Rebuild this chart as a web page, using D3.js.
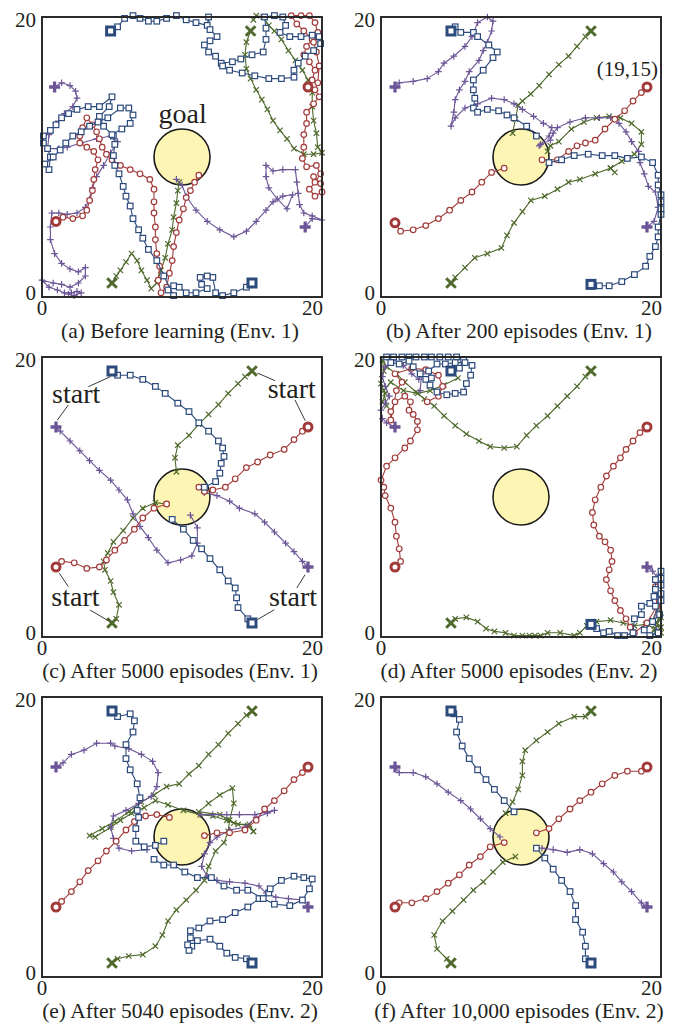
<!DOCTYPE html>
<html>
<head>
<meta charset="utf-8">
<script src="https://cdn.jsdelivr.net/npm/d3@7"></script>
<style>
  body { margin: 0; background: #fff; }
  svg { display: block; }
  text { font-family: 'Liberation Serif', 'Times New Roman', serif; fill: #231f20; }
</style>
</head>
<body>
<svg id="chart" width="683" height="1026"></svg>
<script>
// trajectories, in grid units (0..20); first point of each list is the start

// (a) before learning
const aSq1 = [[4.9,19],[5.4,19.3],[5.9,19.9],[6.5,20.1],[7,19.9],[7.6,19.7],[8.2,19.7],[8.9,19.9],[9.6,20.1],[10.3,19.8],[11,19.6],[11.8,19.4],[11.9,20],[12,19.1],[12.5,18.6],[12,18.3],[11.6,18],[11.9,17.5],[12.4,17.2],[12.8,16.7],[13.6,16.8],[14.2,17],[15,17.3],[15.8,17.5],[16,18.4],[16,19.2],[15.9,20],[16.6,20.1],[17.2,20],[17.4,19.4],[17,18.9],[17.7,18.6],[18.5,18.6],[19.3,18.7],[19.8,18.6],[19.9,18.1],[19.4,17.6],[18.8,17.2],[18.3,16.7],[18,16.2],[18,15.7],[17.1,15.6],[16.2,15.6],[15.2,15.8],[14.3,16],[13.4,16.2],[12.9,16.5]];
const aSq2 = [[15,1],[14.6,0.7],[13.7,0.3],[12.9,0.1],[12.4,0.3],[12.2,1.4],[11.8,1.5],[11.3,1.4],[11.4,0.9],[11.8,0.6],[11,0.3],[10.3,0.3],[9.8,0.7],[9.4,0.8],[9,0.5],[9.4,0.1],[8.7,1.5],[8.2,2.6],[7.6,3.4],[7.2,4.2],[6.9,4.8],[6.5,5.6],[6.3,6.5],[6,7.2],[5.8,7.9],[5.5,8.8],[5.2,9.4],[5.1,10.1],[5.2,10.9],[5.1,11.5],[4.4,12.2],[4.1,12.9],[4.8,13.6],[5,14.3],[4.1,13.6],[3.3,13.6],[2.5,13.4],[1.9,13.1],[1.4,12.8],[1,12.3],[0.6,11.9],[0.1,11.5],[0.1,11],[0.4,10.6],[0.6,10],[0.5,9.1],[0.2,9.5],[0.8,10],[1.3,10.5],[1.7,11],[2.2,11.5],[2.8,11.8],[3.4,12.2],[4,12.5],[4.7,12.8],[5.6,13.5],[6.2,13.5],[6.5,13],[6.3,12.4],[5.7,12],[5,11.6]];
const aCi1 = [[19,15],[19.3,15.5],[19.5,16.2],[19.1,16.8],[18.7,17.3],[18.9,17.9],[19.3,18.4],[18.7,19],[18.2,19.5],[17.8,20.1],[18.5,20.1],[19.1,20.1],[19.5,19.6],[19.7,18.9],[19.4,18.2],[19.6,17.5],[19.8,16.5],[19.7,15.3],[19.5,14.8],[19.8,14.3],[19.4,13.8],[18.9,13.2],[18.9,12.4],[18.7,11.6],[18.7,10.7],[18.6,9.9],[18.9,9.3],[19.6,9.4],[19.9,8.8],[19.5,8.2],[19.1,7.7],[19.5,7.2],[20,7.5],[19.9,8.1],[19.4,8.6]];
const aCi2 = [[1,5.4],[1.5,5.7],[2.2,5.6],[2.9,5.8],[3.2,6.2],[3.4,6.9],[3.6,7.6],[3.7,8.4],[3.8,9.1],[4,9.8],[3.7,10.4],[3.2,10.7],[2.7,11],[2.7,11.5],[2.9,12.1],[3.2,12.8],[3.6,12.3],[3.9,11.8],[4.1,11.3],[4.3,10.7],[4.6,10.2],[5,9.8],[5.6,9.4],[6.3,9.1],[7,8.8],[7.7,8.4],[8,7.7],[8,6.8],[8,6],[8.1,5],[8.1,4.1],[8.2,3.1],[8.4,2.2],[8.3,1.2],[8.5,0.3],[8.9,0.7],[9.1,1.7],[9.3,2.6],[9.4,3.6],[9.6,4.6],[9.8,5.5],[10.1,6.3],[10.3,7.1],[10.6,7.6],[10.9,8.2],[11.2,8.7]];
const aX1 = [[14.9,19],[14.6,18.2],[14.5,17.3],[14.6,16.3],[14.9,15.6],[15.3,14.8],[15.7,14.1],[16.1,13.4],[16.5,12.6],[17,11.9],[17.5,11.3],[18,10.6],[18.7,10.2],[19.4,10.2],[20,10.3],[19.7,10.7],[19.6,11.7],[19.4,12.6],[19.3,13.6],[19.3,14.6],[19,15.5],[18.6,16.2],[18.1,16.9],[17.6,17.6],[17.1,18.4],[16.6,19],[16.2,19.4],[15.8,20],[15.3,20.1],[15.1,19.8]];
const aX2 = [[5,1],[5.3,1.5],[5.6,1.9],[6,2.5],[6.4,3.1],[6.8,2.6],[7.1,1.9],[7.5,1.2],[7.8,0.6],[8.2,1],[8.5,1.9],[8.8,2.8],[9,3.8],[9.3,4.8],[9.4,5.7],[9.6,6.7],[9.7,7.6],[9.8,8.2]];
const aPl1 = [[0.9,15],[1.4,15.3],[2,15.1],[2.4,14.7],[2.5,14.2],[2.2,13.6],[1.6,13.1],[1,12.4],[0.5,11.6],[0.4,10.6],[1.2,10.6],[1.8,10.7],[2.8,11],[3.9,11.3],[4.9,11.5],[5.4,11.1],[4.9,10.3],[4.4,9.4],[3.9,8.6],[3.6,7.8],[3.4,7],[3.1,6.4],[2.5,6],[1.8,5.9],[1.2,6],[0.7,6],[0.6,5],[0.6,4.1],[0.9,3.1],[1.4,2.4],[2,2],[2.6,1.8],[3.1,2.1],[3.1,1.5],[2.6,1],[2,0.7],[1.4,0.9],[0.8,1],[0,1.2],[0.5,0.7],[1.1,0.5],[1.6,0.3],[2.1,0.3],[2.5,0.4],[2.8,0.3],[2.3,0.1],[1.9,0.2]];
const aPl2 = [[18.8,5],[19.3,5.6],[20,5.5],[19.3,5.8],[18.7,6],[18.4,6.6],[18.3,7.4],[18.2,8.2],[18.1,9.1],[17.2,9.1],[16.5,9],[16,9.4],[16,8.6],[16.2,7.8],[16.8,7],[17.5,6.3],[17.9,7.3],[17.2,7.2],[16.5,6.8],[16,6.2],[15.3,5.4],[14.6,4.7],[13.7,4.3],[12.7,4.8],[11.8,5.4],[11,6.2],[10.3,7.2],[10,8],[9.6,8.4]];

// (b) after 200 episodes, env 1
const bSq1 = [[5,19],[5.3,19.3],[5.7,18.9],[6.6,18.9],[6.9,18.6],[7.7,18],[8.3,17.5],[8,17.1],[7.3,16.2],[6.6,15.5],[6.6,14.8],[6.7,14.2],[6.6,13.5],[6.9,13.2],[7.6,13.4],[8.4,13.3],[9,13],[9.5,12.8],[10.4,12.2],[11.1,11.5]];
const bSq2 = [[15,0.9],[15.6,0.8],[16.3,0.8],[17.2,1.1],[18.1,1.6],[18.9,2.2],[19.2,2.9],[19.6,3.6],[19.8,4.3],[19.8,5],[20,5.9],[20,6.3],[20,6.8],[20,7.3],[19.8,8],[19.8,8.7],[19.4,9.6],[18.6,10],[17.6,9.9],[16.7,10.1],[15.8,10.1],[14.8,10.2],[13.8,10.1],[12.9,9.8],[12,9.6]];
const bCi1 = [[19,15],[18.6,14.6],[18,14],[17.4,13.3],[16.7,12.7],[16,12],[15.3,11.2],[14.6,11],[14,10.8],[13.4,10.4],[12.6,9.8],[11.5,9.8]];
const bCi2 = [[1,5.3],[1.4,4.7],[2.3,4.8],[3.2,5.1],[4.1,5.6],[4.9,6.2],[5.7,6.9],[6.5,7.5],[7.2,8.2],[7.9,8.9],[8.8,9.2]];
const bX1 = [[15,19],[14.6,18.6],[14,17.9],[13.4,17.2],[12.7,16.6],[12,15.9],[11.3,15.1],[10.7,14.5],[10.1,14],[9.8,13.7],[9.6,12.7],[9.4,11.7]];
const bX2 = [[5,1],[5.3,1.4],[6,2.1],[6.7,2.8],[7.6,3.1],[8.6,3.5],[9,4.4],[9.5,5.3],[10.1,6.1],[10.7,6.9],[11.7,7.2],[12.6,7.7],[13.4,8.2],[14.2,8.4],[15.3,8.8],[16.4,9.2],[16.7,8.9],[16.4,9.2],[17.2,9.7],[18.1,10.2],[18.6,10.9],[18.6,11.8],[17.9,12.4],[17.1,12.8],[16.3,12.9],[15.4,12.8],[14.5,12.5],[13.6,12],[12.7,11.1],[12.1,10.8],[11.9,10.4]];
const bPl1 = [[1,15],[1.3,15.3],[2.3,15.4],[3.3,15.6],[4.1,16.1],[4.5,16.7],[5.2,17.2],[6,17.9],[6.5,18.6],[6.9,19.6],[7.6,20],[8,19.7],[7.9,19],[7.6,18.2],[7.3,17.6],[7,16.9],[6.3,16.1],[6,15.4],[5.6,14.8],[5.3,14.1],[5.2,13.2],[5,12.2],[5.3,12.8],[6,13.5],[6.9,13.8],[7.9,14.2],[8.8,14.1],[9.5,13.8],[10.1,13.4],[10.9,12.9],[11.6,12.4],[12.2,12.1],[12,11.5],[11.3,10.8]];
const bPl2 = [[19,5],[19.5,5.4],[19.8,6.4],[19.6,7.5],[19.1,7.9],[18.8,8.8],[18.5,9.6],[18.4,10.4],[17.9,11.1],[17.5,11.8],[17,12.4],[16.4,12.8],[15.6,12.8],[14.6,12.8],[13.5,12.5],[12.6,12.1],[12.3,11.7],[12.1,11.2],[11.4,10.9]];

// (c) after 5000 episodes, env 1
const cSq1 = [[5,19],[5.4,18.7],[6.3,18.7],[7.2,18.4],[8.1,17.9],[8.8,17.4],[9.7,16.7],[10.5,16.1],[11.2,15.3],[11.9,14.7],[12.6,14],[12.9,13.5],[13,12.9],[12.8,12.4],[12.7,11.7],[12.4,11.1],[11.6,10.7]];
const cSq2 = [[15,1],[14.7,1.3],[14,2.1],[13.9,2.8],[13.8,3.5],[13.3,4],[12.7,4.8],[12,5.6],[11.4,6.3],[10.8,6.9],[10.1,7.7],[9.3,8.4]];
const cCi1 = [[19,15],[18.6,14.7],[18,14.1],[17.3,13.4],[16.3,13],[15.4,12.5],[14.6,12.1],[13.8,11.3],[13.1,10.7],[12.2,10.5],[11.6,10.4],[11.2,10.7]];
const cCi2 = [[1,5],[1.4,5.4],[2.3,5.3],[3.2,4.9],[4.1,5],[4.6,5.5],[5.2,6.2],[5.9,6.9],[6.6,7.7],[7.2,8.5],[8,9.2],[8.9,9.5]];
const cX1 = [[15,19],[14.5,18.6],[14,18.1],[13.3,17.4],[12.6,16.6],[11.9,15.9],[11.2,15.2],[10.5,14.4],[9.7,13.7],[9.5,12.8],[9.6,11.8]];
const cX2 = [[5,1],[5.3,1.3],[5.5,2.3],[5.1,3.2],[4.9,4],[4.5,4.8],[4.4,5.4],[4.7,6],[5.1,6.8],[5.8,7.6],[6.5,8.5],[7.2,9.2],[8.1,9.6],[8.9,9.5]];
const cPl1 = [[1,15],[1.3,14.7],[2,14],[2.7,13.3],[3.4,12.6],[4.1,11.9],[4.9,11.2],[5.5,10.5],[6.1,9.8],[6.5,8.8],[7,7.9],[7.6,7.1],[8.2,6.2],[9,5.3],[9.9,5.5],[10.7,5.8],[11.1,6.7],[11.1,7.8],[10.6,8.7]];
const cPl2 = [[19,5],[18.6,5.4],[18,6.1],[17.4,6.7],[16.6,7.5],[15.9,8.2],[15.2,8.8],[14.1,9.2],[13.4,9.7],[12.5,10.1],[11.6,10.3]];

// (d) after 5000 episodes, env 2
const dSq1 = [[5,19],[5.6,19.2],[5.9,19.8],[5.4,20],[4.8,20],[4.2,20],[3.6,20],[3.1,20],[2.5,20],[2,20],[1.5,20],[0.9,20],[0.4,20],[0.7,19.6],[1.3,19.5],[2,19.7],[2.3,19.3],[2.8,18.8],[3.2,18.4],[3.5,18],[4,17.5],[4.7,17.3],[5.3,17.4],[5.9,17.5],[6.1,18.1],[6.4,18.7],[6.5,19.4],[6,19.6],[5.3,19.6],[4.6,19.5],[4,19.5],[3.4,19],[3.6,18.5]];
const dSq2 = [[15,0.9],[15.4,0.6],[15.9,0.3],[16.3,0.4],[16.9,0.1],[17.4,0.1],[18,0.3],[18.1,1.3],[18.6,1.6],[18.6,2.2],[19.2,2.4],[19.5,2.9],[20,3.1],[20,3.7],[20,4.2],[20,4.7],[19.6,4.1],[19.6,3.4],[20,2.6],[19.6,2.2],[19.9,1.6],[19.4,1.1],[18.8,0.5],[19.2,0.1],[19.8,0.3]];
const dCi1 = [[19,15],[18.5,14.6],[18,14],[17.5,13.4],[17.1,12.8],[16.6,12.2],[16.1,11.5],[15.7,10.7],[15.3,9.8],[15.1,8.9],[15.2,8],[15.6,7.2],[16,6.8],[16.4,6.2],[16.5,5.4],[16.3,4.8],[16.1,4.1],[16.4,3.3],[16.7,2.6],[17.1,1.9],[17.5,1.3],[17.8,0.7],[18.1,0.3],[19,1],[19.7,2.2],[19.6,3.6]];
const dCi2 = [[1,5],[1.4,5.4],[1.3,6.3],[1.1,7.2],[1,8.2],[0.7,9.2],[0.3,10.1],[0.2,10.7],[0,11.2],[0.4,12.2],[1,12.8],[1.7,13.5],[2.1,14],[2.6,14.8],[2.6,15.4],[2.3,15.9],[2,16.2],[2.1,16.8],[1.7,17.2],[1,16.8],[0.7,16.1],[0.7,15.5],[1.1,17.6],[1.5,18.2],[1,18.8],[2.2,19.2],[3.2,19.1],[4.1,18.7],[4.4,17.9],[4.1,17.2],[3.3,16.8]];
const dX1 = [[15,19],[14.6,18.6],[14,17.9],[13.3,17.2],[12.6,16.5],[11.9,15.8],[11.1,15.1],[10.4,14.4],[9.7,13.6],[8.8,13.5],[7.8,13.6],[7,14],[6.1,14.5],[5.3,15.1],[4.5,15.8],[3.8,16.5],[3.1,17],[2.5,17.5],[1.7,18.2],[1.1,18.8],[0.4,19.3],[0.1,19.8],[0.2,19],[0,18.1],[0.3,17.4],[0.1,16.8],[0.4,16.5],[0.2,17.6],[0.7,18.2],[1.6,17.6],[2.6,17.4],[3.5,17.6],[4.5,18],[5.5,18.5]];
const dX2 = [[5,1],[5.3,1.3],[6.1,1.4],[6.9,1.1],[7.5,0.6],[8.1,0.4],[8.9,0.3],[9.5,0.1],[10.1,0.1],[10.6,0.1],[11,0.1],[11.4,0.1],[11.9,0.3],[12.8,0.3],[13.8,0.1],[14.2,0.3],[14.7,0.8],[15.4,1.1],[16.4,1.2],[17.3,1],[18.1,0.8],[18.9,0.9],[19.6,0.6],[20,0.3],[19.7,1],[19.9,1.7],[19.6,0.3],[20,0.7],[19.4,1.2],[19.8,2.2],[20,1.4],[19.5,0.5]];
const dPl1 = [[1,15],[0.4,15.3],[0.1,15.6],[0,16.2],[0.3,16.7],[0.6,17.2],[0.3,17.9],[0.1,18.6],[0.3,19.3],[0.9,19.8],[1.6,19.4],[2.2,18.8],[2.7,18.4],[2.9,18.8],[2.8,17.6]];
const dPl2 = [[19,5],[19.4,4.7],[19.7,4.3],[19.8,3.1],[19.7,2.2],[19.5,1.1],[19.8,0.3]];

// (e) after 5040 episodes, env 2
const eSq1 = [[5,19],[5.4,18.6],[6.3,18.8],[6.6,18.3],[6.5,17.5],[6,16.6],[6,15.6],[6.3,14.8],[6.8,13.8],[7,12.8],[6.8,11.9],[6.9,11.4],[6.7,10.6],[6.7,9.7],[7.3,9.3],[8.1,9.4],[8.7,9.7]];
const eSq2 = [[15,1],[14.6,1.3],[13.8,1.4],[13.2,1.7],[12.7,2.2],[12,2.7],[11.1,2.6],[10.7,2.2],[10.5,1.9],[10.4,2.3],[10.6,2.8],[10.6,3.3],[11.2,3.5],[12,4],[12.9,4.1],[13.8,4.6],[14.7,5],[15.5,5.6],[16.2,6],[16.3,6.3],[17.1,6.9],[18,7.2],[18.7,7.1],[19.3,7],[19.1,6.3],[18.6,5.5],[17.7,5.1],[16.6,5.2],[15.8,5.6],[14.7,6.2],[13.9,6.2],[13,6.5],[12.1,7.1],[11.1,7.1],[10.2,7.5],[9.4,8],[8.7,8],[8,8.4]];
const eCi1 = [[19,15],[18.6,14.6],[18,14.1],[17.3,13.3],[16.6,12.6],[15.9,12],[15.3,11.2],[14.5,10.5],[13.4,10.3],[12.5,10.3],[11.6,10.1]];
const eCi2 = [[1,5],[1.4,5.4],[2.1,6.1],[2.7,6.8],[3.3,7.6],[4,8.3],[4.6,9],[5.3,9.7],[6,10.5],[6.6,11.1],[7.4,11.5],[8.2,11.6],[9.1,11.4]];
const eX1 = [[15,19],[14.6,18.7],[14,18.1],[13.3,17.4],[12.6,16.6],[11.9,15.9],[11.2,15.1],[10.5,14.5],[9.8,13.8],[8.9,13.6],[8,13],[7.1,12.5],[6.2,11.8],[5.2,11.1],[4.3,10.6],[3.4,10.1],[3.8,10],[4.9,10.7],[5.6,11.2],[6.4,11.7],[7.3,12.1],[8.1,12.6],[9,12.3],[10.1,11.9],[11.3,11.6],[12.2,11.5],[13.2,11.2],[14,10.9],[14.8,10.9],[15.1,10.4]];
const eX2 = [[5,1],[5.4,1.3],[6.2,1.5],[7.2,1.6],[8.1,2.2],[8.6,3],[9,4],[9.6,4.8],[10.3,5.5],[11,6.2],[11.6,6.9],[11.9,7.9],[12.4,9],[13,9.6],[13.3,10.4],[13.4,11.2],[13.7,12.4],[13.6,13.5],[12.7,13],[11.9,12.4],[11.2,11.8],[12.7,11.6],[13.7,11],[14.7,10.8],[15.1,10.4]];
const ePl1 = [[1,15],[1.5,15.3],[2.1,15.9],[3,16.2],[3.9,16.7],[4.9,16.7],[5.2,16.5],[6.2,16.3],[7.1,15.9],[7.9,15.4],[8.3,14.6],[8.2,13.6],[7.8,12.9],[6.9,12.4],[6,11.9],[5.1,11.5],[4.9,10.7],[5.1,9.9],[5.5,9.2],[6.4,9],[7.5,9.1]];
const ePl2 = [[19,5],[18.6,5.5],[17.6,5.6],[16.7,5.7],[16,6],[15.5,6.5],[14.5,6.7],[13.4,6.8],[12.5,6.9],[11.8,7.2],[11.4,7.9],[11.6,8.8],[12,9.6],[12.5,10],[13.4,10.5],[14.5,10.7],[15.3,11.4],[16.1,11.7],[16.6,11.9],[15.2,11.6],[14.1,11.6],[13.2,11.6],[12.2,11.6],[11.3,11.6]];

// (f) after 10,000 episodes, env 2
const fSq1 = [[5,19],[5.2,18.8],[5.6,18.4],[5.4,17.5],[5.8,16.5],[6.3,15.6],[6.9,14.8],[7.5,14.1],[8.1,13.4],[8.8,12.6],[9.5,11.8]];
const fSq2 = [[15,1],[14.6,1.3],[14.6,2.2],[14.4,3.2],[13.9,4.1],[13.9,5.1],[13.5,6.1],[12.9,6.9],[12.3,7.7],[11.7,8.5],[11.1,9.2]];
const fCi1 = [[19,15],[18.6,14.7],[17.6,14.7],[16.7,14.4],[15.8,13.8],[15,13.2],[14.2,12.6],[13.5,12],[12.7,11.3],[12,10.6],[11.1,10.3]];
const fCi2 = [[1,5],[1.3,5.3],[2.2,5.3],[3.2,5.6],[4,6.1],[4.8,6.7],[5.6,7.3],[6.3,8],[7.1,8.6],[7.8,9.3],[8.8,9.6]];
const fX1 = [[15,19],[14.6,18.6],[13.8,18.6],[12.7,18.1],[11.9,17.5],[11.1,16.9],[10.3,16.2],[10.1,15.4],[10.1,14.4],[9.8,13.4],[9.4,12.5],[8.9,11.7]];
const fX2 = [[5,1],[4.7,1.3],[4,2],[3.8,3],[4.4,4],[5.1,4.7],[5.9,5.5],[6.6,6.2],[7.3,6.8],[8,7.5],[8.7,8.2],[9.6,8.6]];
const fPl1 = [[1,15],[1.3,14.6],[2.3,14.6],[3.2,14.3],[4,13.8],[4.8,13.2],[5.7,12.6],[6.4,12],[7.1,11.3],[7.8,10.6],[8.5,10]];
const fPl2 = [[19,5],[18.6,5.3],[17.9,6.1],[17.2,6.8],[16.6,7.5],[15.9,8.1],[15.1,8.8],[14.2,9.1],[13.3,8.9],[12.3,9.1],[11.5,9.2]];

const captions = ['(a) Before learning (Env. 1)', '(b) After 200 episodes (Env. 1)',
  '(c) After 5000 episodes (Env. 1)', '(d) After 5000 episodes (Env. 2)',
  '(e) After 5040 episodes (Env. 2)', '(f) After 10,000 episodes (Env. 2)'];
const goal = [10, 10];
const goalRadius = 2;
const tickValues = [0, 20];

const panels = [
  { caption: captions[0], col: 0, row: 0, sq: [aSq1, aSq2], ci: [aCi1, aCi2], x: [aX1, aX2], pl: [aPl1, aPl2] },
  { caption: captions[1], col: 1, row: 0, sq: [bSq1, bSq2], ci: [bCi1, bCi2], x: [bX1, bX2], pl: [bPl1, bPl2] },
  { caption: captions[2], col: 0, row: 1, sq: [cSq1, cSq2], ci: [cCi1, cCi2], x: [cX1, cX2], pl: [cPl1, cPl2] },
  { caption: captions[3], col: 1, row: 1, sq: [dSq1, dSq2], ci: [dCi1, dCi2], x: [dX1, dX2], pl: [dPl1, dPl2] },
  { caption: captions[4], col: 0, row: 2, sq: [eSq1, eSq2], ci: [eCi1, eCi2], x: [eX1, eX2], pl: [ePl1, ePl2] },
  { caption: captions[5], col: 1, row: 2, sq: [fSq1, fSq2], ci: [fCi1, fCi2], x: [fX1, fX2], pl: [fPl1, fPl2] },
];

// text annotations (panel index, grid position of baseline centre)
const notes = [
  { p: 0, text: 'goal', x: 10.05, y: 12.45, size: 28 },
  { p: 1, text: '(19,15)', x: 17.6, y: 15.8, size: 21 },
  { p: 2, text: 'start', x: 2.44, y: 16.7, size: 28 },
  { p: 2, text: 'start', x: 17.84, y: 17.05, size: 28 },
  { p: 2, text: 'start', x: 2.39, y: 2.2, size: 28 },
  { p: 2, text: 'start', x: 17.93, y: 2.2, size: 28 },
];
const leaders = [
  [[3.31, 17.88], [4.9, 18.6]], [[1.88, 16.57], [1.1, 15.5]],
  [[16.64, 18.31], [15.4, 18.85]], [[18.07, 16.93], [18.8, 15.45]],
  [[1.24, 4.55], [1.88, 3.6]], [[3.43, 1.93], [4.75, 1.15]],
  [[18.79, 4.45], [18.2, 3.5]], [[16.6, 1.95], [15.4, 1.25]],
];

const colors = { sq: '#2c4a7c', ci: '#a23a3a', x: '#4f6a2c', pl: '#6b5597' };
const size = 280;
const colX = [42, 381];
const rowY = [17, 357, 697];

const svg = d3.select('#chart');
const xScale = d3.scaleLinear().domain([0, 20]).range([0, size]);
const yScale = d3.scaleLinear().domain([0, 20]).range([size, 0]);
const line = d3.line().x((d) => xScale(d[0])).y((d) => yScale(d[1]));

function drawMarker(g, kind, d, start) {
  const cx = xScale(d[0]), cy = yScale(d[1]);
  const c = colors[kind];
  const sw = start ? 3 : 1.2;
  if (kind === 'sq') {
    const s = start ? 8 : 5.6;
    g.append('rect').attr('x', cx - s / 2).attr('y', cy - s / 2).attr('width', s).attr('height', s)
      .attr('fill', '#fff').attr('stroke', c).attr('stroke-width', sw);
  } else if (kind === 'ci') {
    g.append('circle').attr('cx', cx).attr('cy', cy).attr('r', start ? 4 : 2.8)
      .attr('fill', '#fff').attr('stroke', c).attr('stroke-width', sw);
  } else if (kind === 'x') {
    const h = start ? 4.8 : 2.7;
    g.append('path').attr('d', `M${cx - h},${cy - h}L${cx + h},${cy + h}M${cx - h},${cy + h}L${cx + h},${cy - h}`)
      .attr('stroke', c).attr('stroke-width', sw).attr('fill', 'none');
  } else {
    const h = start ? 5.5 : 3.3;
    g.append('path').attr('d', `M${cx - h},${cy}L${cx + h},${cy}M${cx},${cy - h}L${cx},${cy + h}`)
      .attr('stroke', c).attr('stroke-width', start ? 3.3 : sw).attr('fill', 'none');
  }
}

panels.forEach((p, i) => {
  const g = svg.append('g').attr('transform', `translate(${colX[p.col]},${rowY[p.row]})`);

  // goal
  g.append('circle')
    .attr('cx', xScale(goal[0])).attr('cy', yScale(goal[1]))
    .attr('r', xScale(goalRadius) - xScale(0))
    .attr('fill', '#fdf5b3').attr('stroke', '#1a1a1a').attr('stroke-width', 1.6);

  // trajectories
  ['x', 'pl', 'ci', 'sq'].forEach((kind) => {
    p[kind].forEach((traj) => {
      const tg = g.append('g');
      tg.append('path').attr('d', line(traj)).attr('fill', 'none')
        .attr('stroke', colors[kind]).attr('stroke-width', 1.1);
      traj.slice(1).forEach((d) => drawMarker(tg, kind, d, false));
      drawMarker(tg, kind, traj[0], true);
    });
  });

  // frame
  g.append('rect').attr('x', 0).attr('y', 0).attr('width', size).attr('height', size)
    .attr('fill', 'none').attr('stroke', '#222').attr('stroke-width', 1.9);

  // tick labels
  g.selectAll('.xt').data(tickValues).join('text')
    .attr('x', (d) => xScale(d) + (d === 20 ? 1 : 0))
    .attr('y', size + 18)
    .attr('text-anchor', (d) => (d === 20 ? 'end' : 'middle'))
    .style('font-size', '21px')
    .text((d) => d);
  g.selectAll('.yt').data(tickValues).join('text')
    .attr('x', -6)
    .attr('y', (d) => (d === 20 ? yScale(d) + 10 : yScale(d) + 3))
    .attr('text-anchor', 'end')
    .style('font-size', '21px')
    .text((d) => d);

  // caption
  g.append('text').attr('x', xScale(10) - 2).attr('y', size + 40.5)
    .attr('text-anchor', 'middle').style('font-size', '21.5px').text(p.caption);

  notes.filter((n) => n.p === i).forEach((n) => {
    g.append('text').attr('x', xScale(n.x)).attr('y', yScale(n.y))
      .attr('text-anchor', 'middle').style('font-size', n.size + 'px').text(n.text);
  });
  if (i === 2) {
    leaders.forEach((l) => {
      g.append('line').attr('x1', xScale(l[0][0])).attr('y1', yScale(l[0][1]))
        .attr('x2', xScale(l[1][0])).attr('y2', yScale(l[1][1]))
        .attr('stroke', '#222').attr('stroke-width', 0.9);
    });
  }
});
</script>
</body>
</html>
